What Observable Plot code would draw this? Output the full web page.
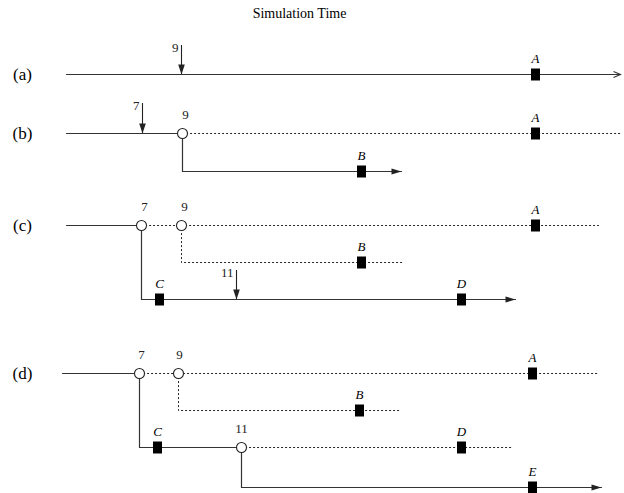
<!DOCTYPE html>
<html>
<head>
<meta charset="utf-8">
<script src="https://cdn.jsdelivr.net/npm/d3@7"></script>
<script src="https://cdn.jsdelivr.net/npm/@observablehq/plot@0.6"></script>
<style>
  html, body { margin: 0; padding: 0; background: #fff; }
  #chart svg { display: block; }
</style>
</head>
<body>
<div id="chart"></div>
<script>
// ---- Data (x = simulation-time position, y = lane position) ----
const titleText = "Simulation Time";
const titlePos = [299, 13];

const panelLabels = ["(a)", "(b)", "(c)", "(d)"];
const panelLanes  = [74, 133, 225, 373];

// executed (solid) trajectories, as polylines
const activePaths = [
  [[66, 74], [620, 74]],
  [[66, 133], [182, 133]],
  [[182, 133], [182, 171], [401, 171]],
  [[66, 225], [141, 225]],
  [[141, 225], [141, 299], [515, 299]],
  [[62, 373], [139, 373]],
  [[139, 373], [139, 447], [241, 447]],
  [[241, 447], [241, 487], [601, 487]]
];
// rolled-back (dotted) trajectories
const rolledBackPaths = [
  [[182, 133], [620, 133]],
  [[141, 225], [598, 225]],
  [[181, 225], [181, 262], [403, 262]],
  [[139, 373], [598, 373]],
  [[178, 373], [178, 410], [400, 410]],
  [[241, 447], [512, 447]]
];
// trajectories ending with an arrow head: [path index, head type]
const pathHeads = [[0, "open"], [2, "filled"], [4, "filled"], [7, "filled"]];

// rollback points (open circles) and their timestamps
const rollbackX     = [182, 141, 181, 139, 178, 241];
const rollbackY     = [133, 225, 225, 373, 373, 447];
const rollbackTimes = ["9", "7", "9", "7", "9", "11"];
const rollbackLabelX = [185, 144, 184, 141, 179, 241];

// scheduled events (filled squares)
const eventNames = ["A", "A", "B", "A", "B", "C", "D", "A", "B", "C", "D", "E"];
const eventX = [535, 535, 361, 535, 361, 159, 461, 532, 359, 157, 461, 532];
const eventY = [74, 133, 171, 225, 262, 299, 299, 373, 410, 447, 447, 487];

// straggler messages (down arrows) with timestamps
const stragglerTimes = ["9", "7", "11"];
const stragglerX     = [181, 142, 236];
const stragglerTop   = [45, 103, 270];
const stragglerLane  = [74, 133, 299];

// ---- Build tables from the arrays ----
const flat = (paths) => paths.flatMap((p, i) => p.map(([x, y]) => ({x, y, id: i})));
const activeRows = flat(activePaths);
const dottedRows = flat(rolledBackPaths);
const headRows = pathHeads.map(([i, type]) => {
  const p = activePaths[i], [x, y] = p[p.length - 1];
  return {x, y, type};
});
const panels = panelLabels.map((label, i) => ({label, y: panelLanes[i]}));
const rollbacks = rollbackX.map((x, i) => ({x, y: rollbackY[i], t: rollbackTimes[i], lx: rollbackLabelX[i]}));
const events = eventNames.map((name, i) => ({name, x: eventX[i], y: eventY[i]}));
const stragglers = stragglerTimes.map((t, i) => ({t, x: stragglerX[i], y1: stragglerTop[i], y2: stragglerLane[i]}));

// ---- Custom symbols ----
const boxSym = {draw(ctx) { ctx.rect(-4.5, -6, 9, 12); }};
const headRight = {draw(ctx) { ctx.moveTo(0, 0); ctx.lineTo(-10, -3); ctx.lineTo(-10, 3); ctx.closePath(); }};
const headDown = {draw(ctx) { ctx.moveTo(0, 0); ctx.lineTo(-3.3, -10); ctx.lineTo(3.3, -10); ctx.closePath(); }};
const headOpen = {draw(ctx) { ctx.moveTo(-7, -3); ctx.lineTo(0, 0); ctx.lineTo(-7, 3); }};

const ink = "#222";
const serif = "'Liberation Serif', 'Times New Roman', serif";

const chart = Plot.plot({
  width: 624,
  height: 493,
  margin: 0,
  x: {domain: [0, 624], range: [0, 624], axis: null},
  y: {domain: [0, 493], range: [0, 493], axis: null},
  style: {fontFamily: serif, background: "#fff", color: ink},
  marks: [
    Plot.line(dottedRows, {x: "x", y: "y", z: "id", stroke: ink, strokeWidth: 1, strokeDasharray: "1.2,2.8", curve: "linear"}),
    Plot.line(activeRows, {x: "x", y: "y", z: "id", stroke: "#333", strokeWidth: 1.2, curve: "linear"}),
    // straggler arrows
    Plot.ruleX(stragglers, {x: "x", y1: "y1", y2: "y2", stroke: ink, strokeWidth: 1.1}),
    Plot.dot(stragglers, {x: "x", y: "y2", symbol: headDown, fill: ink, stroke: "none"}),
    Plot.text(stragglers, {x: d => d.x - 3, y: d => d.y1 + 2, text: "t", textAnchor: "end", fontSize: 13, fill: ink}),
    // arrow heads on trajectories
    Plot.dot(headRows.filter(d => d.type === "filled"), {x: "x", y: "y", symbol: headRight, fill: ink, stroke: "none"}),
    Plot.dot(headRows.filter(d => d.type === "open"), {x: "x", y: "y", symbol: headOpen, fill: "none", stroke: "#333", strokeWidth: 1.1}),
    // events
    Plot.dot(events, {x: "x", y: "y", symbol: boxSym, fill: "#000", stroke: "none"}),
    Plot.text(events, {x: "x", y: d => d.y - 16, text: "name", fontStyle: "italic", fontSize: 13, fill: "#000"}),
    // rollback circles
    Plot.dot(rollbacks, {x: "x", y: "y", r: 5, fill: "#fff", stroke: ink, strokeWidth: 1.1}),
    Plot.text(rollbacks, {x: "lx", y: d => d.y - 19, text: "t", fontSize: 13, fill: ink}),
    // panel labels
    Plot.text(panels, {x: 22, y: "y", text: "label", fontSize: 17, fill: "#000"}),
    // title
    Plot.text([titleText], {x: titlePos[0], y: titlePos[1], text: d => d, fontSize: 14, fill: "#000"})
  ]
});
document.getElementById("chart").appendChild(chart);
</script>
</body>
</html>
